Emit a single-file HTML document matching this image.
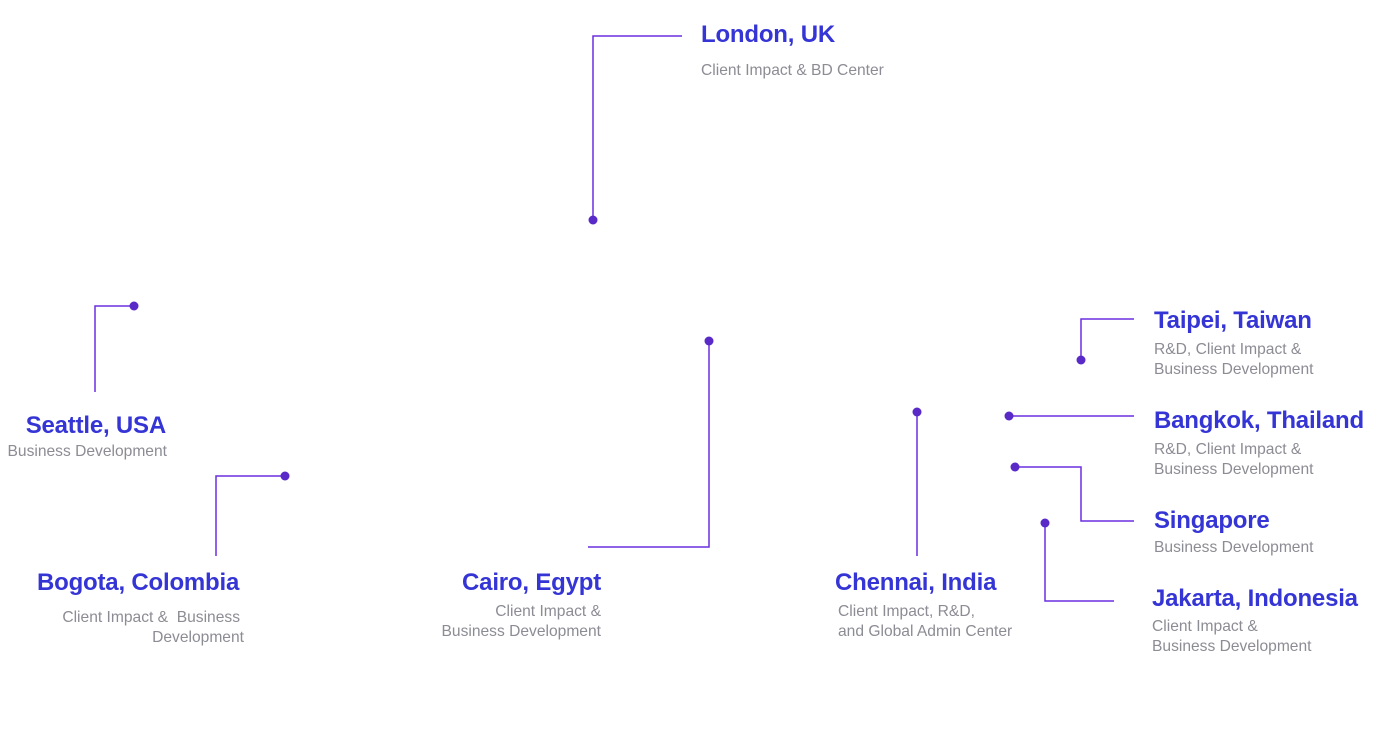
<!DOCTYPE html>
<html><head><meta charset="utf-8"><style>
html,body{margin:0;padding:0;background:#fff;width:1400px;height:752px;overflow:hidden;position:relative;font-family:"Liberation Sans",sans-serif}
.t{position:absolute;font-size:24px;line-height:24px;font-weight:bold;color:#3535d6;white-space:nowrap;letter-spacing:-0.2px}
.s{position:absolute;font-size:15.6px;line-height:19.5px;color:#8c8c94;white-space:nowrap}
svg{position:absolute;left:0;top:0}
</style></head><body>
<svg width="1400" height="752" viewBox="0 0 1400 752">
<g fill="none" stroke="#6a2ee0" stroke-width="1.5">
<polyline points="593,220 593,36 682,36"/>
<polyline points="134,306 95,306 95,392"/>
<polyline points="285,476 216,476 216,556"/>
<polyline points="709,341 709,547 588,547"/>
<polyline points="917,412 917,556"/>
<polyline points="1081,360 1081,319 1134,319"/>
<polyline points="1009,416 1134,416"/>
<polyline points="1015,467 1081,467 1081,521 1134,521"/>
<polyline points="1045,523 1045,601 1114,601"/>
</g>
<g fill="#5a2ac8">
<circle cx="593" cy="220" r="4.5"/><circle cx="134" cy="306" r="4.5"/>
<circle cx="285" cy="476" r="4.5"/><circle cx="709" cy="341" r="4.5"/>
<circle cx="917" cy="412" r="4.5"/><circle cx="1081" cy="360" r="4.5"/>
<circle cx="1009" cy="416" r="4.5"/><circle cx="1015" cy="467" r="4.5"/>
<circle cx="1045" cy="523" r="4.5"/>
</g>
</svg>

<div class="t" style="left:701px;top:23px">London, UK</div>
<div class="s" style="left:701px;top:61px">Client Impact &amp; BD Center</div>

<div class="t" style="right:1234px;top:414px">Seattle, USA</div>
<div class="s" style="right:1233px;top:442px">Business Development</div>

<div class="t" style="left:37px;top:571px">Bogota, Colombia</div>
<div class="s" style="right:1160px;top:608px;text-align:right">Client Impact &amp;&nbsp; Business<br><span style="margin-right:-4px">Development</span></div>

<div class="t" style="right:799px;top:571px">Cairo, Egypt</div>
<div class="s" style="right:799px;top:602px;text-align:right">Client Impact &amp;<br>Business Development</div>

<div class="t" style="left:835px;top:571px">Chennai, India</div>
<div class="s" style="left:838px;top:602px">Client Impact, R&amp;D,<br>and Global Admin Center</div>

<div class="t" style="left:1154px;top:309px">Taipei, Taiwan</div>
<div class="s" style="left:1154px;top:340px">R&amp;D, Client Impact &amp;<br>Business Development</div>

<div class="t" style="left:1154px;top:409px">Bangkok, Thailand</div>
<div class="s" style="left:1154px;top:440px">R&amp;D, Client Impact &amp;<br>Business Development</div>

<div class="t" style="left:1154px;top:509px">Singapore</div>
<div class="s" style="left:1154px;top:538px">Business Development</div>

<div class="t" style="left:1152px;top:587px">Jakarta, Indonesia</div>
<div class="s" style="left:1152px;top:617px">Client Impact &amp;<br>Business Development</div>
</body></html>
